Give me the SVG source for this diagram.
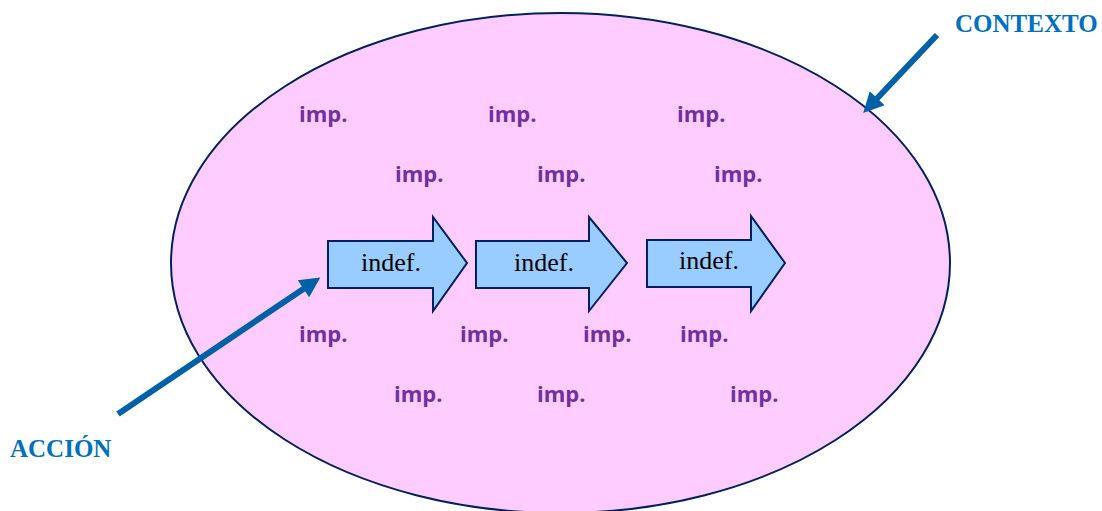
<svg xmlns="http://www.w3.org/2000/svg" width="1102" height="511" viewBox="0 0 1102 511">
<defs>
<style>
.ctx{fill:#FFCCFF;stroke:#002060;stroke-width:2}
.blk{fill:#99CCFF;stroke:#002060;stroke-width:2;stroke-linejoin:miter}
.ind{font-family:"Liberation Serif","Times New Roman",serif;font-size:26px;fill:#000;text-anchor:middle}
.imp{font-family:"Open Sans","Noto Sans",sans-serif;font-weight:bold;font-size:22px;fill:#7030A0}
.lbl{font-family:"Liberation Serif","Times New Roman",serif;font-weight:bold;font-size:25px;fill:#0070C0}
.ptr{stroke:#0060A8;stroke-width:6;fill:none;marker-end:url(#head)}
</style>
<marker id="head" viewBox="0 0 10 10" markerWidth="3.8" markerHeight="3.4" refX="3" refY="5" orient="auto" markerUnits="strokeWidth">
<path d="M0,0 L10,5 L0,10 Z" fill="#0060A8"/>
</marker>
</defs>
<rect width="1102" height="511" fill="#FFFFFF"/>
<g id="contexto">
<ellipse class="ctx" cx="560.5" cy="263" rx="389.5" ry="250"/>
</g>
<g id="imps">
<text class="imp" x="299" y="122">imp.</text>
<text class="imp" x="488" y="122">imp.</text>
<text class="imp" x="677" y="122">imp.</text>
<text class="imp" x="395" y="182">imp.</text>
<text class="imp" x="537" y="182">imp.</text>
<text class="imp" x="714" y="182">imp.</text>
<text class="imp" x="299" y="342">imp.</text>
<text class="imp" x="460" y="342">imp.</text>
<text class="imp" x="583" y="342">imp.</text>
<text class="imp" x="680" y="342">imp.</text>
<text class="imp" x="394" y="402">imp.</text>
<text class="imp" x="537" y="402">imp.</text>
<text class="imp" x="730" y="402">imp.</text>
</g>
<g id="accion1">
<path class="blk" d="M328,241 L433,241 L433,217 L467,263 L433,311 L433,288 L328,288 Z"/>
<text class="ind" x="391" y="271">indef.</text>
</g>
<g id="accion2">
<path class="blk" d="M476,241 L589,241 L589,217 L627,263 L589,311 L589,288 L476,288 Z"/>
<text class="ind" x="544" y="271">indef.</text>
</g>
<g id="accion3">
<path class="blk" d="M647,240 L751,240 L751,216 L785,263 L751,311 L751,287 L647,287 Z"/>
<text class="ind" x="709" y="269">indef.</text>
</g>
<g id="connectors">
<line class="ptr" x1="937" y1="35" x2="873" y2="102.7"/>
<line class="ptr" x1="118" y1="414" x2="308.5" y2="285.4"/>
</g>
<g id="labels">
<text class="lbl" x="955" y="32">CONTEXTO</text>
<text class="lbl" x="10" y="457">ACCIÓN</text>
</g>
</svg>
